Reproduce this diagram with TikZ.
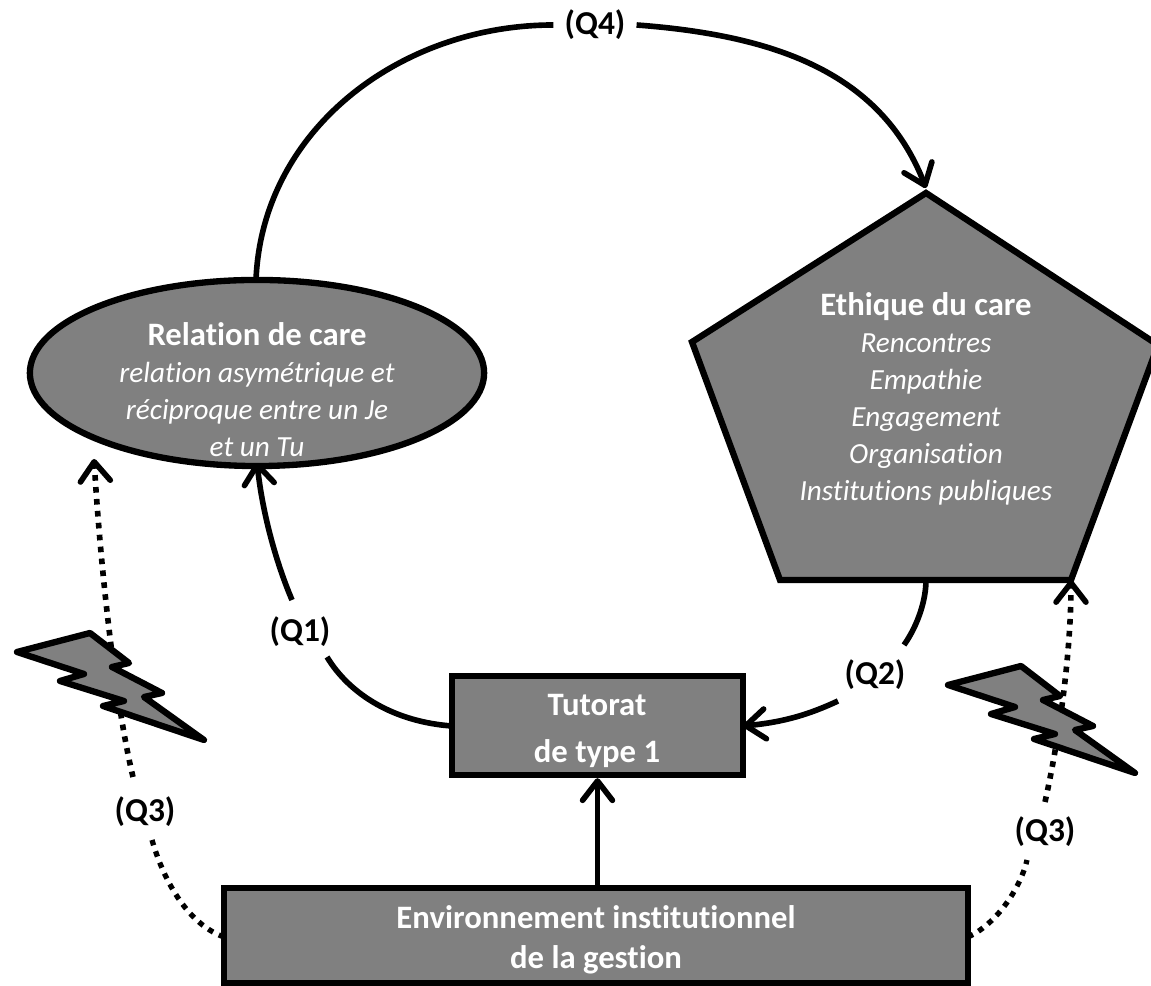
\documentclass[tikz,border=0pt]{standalone}
\usepackage{fontspec}
\usepackage{tikz}
\usetikzlibrary{arrows.meta,shapes.geometric}
\setmainfont[Ligatures=CommonOff]{Carlito}

\definecolor{boxgrey}{RGB}{128,128,128}
\newcommand{\boxtitle}[1]{{\fontsize{9.3}{10.5}\selectfont\bfseries\upshape #1}}

\tikzset{
    x=0.01cm, y=-0.01cm,
    shapebox/.style={draw=black, fill=boxgrey, line width=1.8pt, line join=miter},
    boxtext/.style={text=white, align=center, font=\fontsize{8.3}{10.5}\selectfont\itshape},
    qlabel/.style={fill=white, inner sep=3pt, font=\fontsize{9.5}{10}\selectfont\bfseries},
    link/.style={line width=1.6pt, -{Straight Barb[length=5.5pt,width=8.5pt,line width=1.6pt,round]}},
    linkplain/.style={line width=1.6pt},
    dotlink/.style={line width=1.5pt, dash pattern=on 1.6pt off 1.8pt},
}

\begin{document}
\begin{tikzpicture}
    \useasboundingbox (0,0) rectangle (1151,986);

    % connectors go first, the shapes sit on top of them
    \coordinate (top) at (926,193);
    \coordinate (right) at (1158,345);
    \coordinate (lowright) at (1071,580);
    \coordinate (lowleft) at (780,580);
    \coordinate (left) at (692,342);
    \coordinate (lowmid) at (926,580);
    \coordinate (topgap) at (926,188);
    \coordinate (rightgap) at (1071,580);
    \coordinate (ringtop) at (256,280);
    \coordinate (ringlow) at (257,462);
    \coordinate (ringleft) at (94,459);
    \coordinate (tutleft) at (452,726);
    \coordinate (tutright) at (743,726);
    \coordinate (envleft) at (224,937);
    \coordinate (envright) at (968,937);
    \coordinate (dotleftup) at (133,777);
    \coordinate (dotleftdown) at (152,840);
    \coordinate (dotrightup) at (1045,802);
    \coordinate (dotrightdown) at (1027,860);
    \coordinate (oneup) at (292,600);
    \coordinate (onedown) at (327,657);
    \coordinate (twoup) at (904,645);
    \coordinate (twodown) at (838,701);

    \node[qlabel] (q4) at (595,25) {(Q4)};
    \node[qlabel] (q1) at (300,632) {(Q1)};
    \node[qlabel] (q2) at (875,675) {(Q2)};
    \node[qlabel] (q3l) at (145,812) {(Q3)};
    \node[qlabel] (q3r) at (1045,832) {(Q3)};

    \draw[linkplain] (ringtop) .. controls (262,130) and (400,25) .. (q4.west);
    \draw[link] (q4.east) .. controls (770,35) and (880,70) .. (topgap);
    \draw[linkplain] (tutleft) .. controls (395,722) and (350,695) .. (onedown);
    \draw[link] (oneup) .. controls (275,560) and (262,510) .. (ringlow);
    \draw[linkplain] (lowmid) .. controls (926,600) and (918,625) .. (twoup);
    \draw[link] (twodown) .. controls (810,714) and (785,722) .. (tutright);
    \draw[dotlink] (envleft) .. controls (190,925) and (165,885) .. (dotleftdown);
    \draw[link, dash pattern=on 1.6pt off 1.8pt] (dotleftup) .. controls (118,715) and (102,590) .. (ringleft);
    \draw[dotlink] (envright) .. controls (995,925) and (1020,890) .. (dotrightdown);
    \draw[link, dash pattern=on 1.6pt off 1.8pt] (dotrightup) .. controls (1060,735) and (1071,650) .. (rightgap);

    \node[shapebox, ellipse, minimum width=4.54cm, minimum height=1.86cm, inner sep=0pt] (relation) at (257,373) {};
    \node[boxtext] (relationtext) at (257,390) {\boxtitle{Relation de care}\\ relation asymétrique et\\ réciproque entre un Je\\ et un Tu};

    \draw[shapebox] (top) -- (right) -- (lowright) -- (lowleft) -- (left) -- cycle;
    \node[boxtext] (ethique) at (926,399) {\boxtitle{Ethique du care}\\ Rencontres\\ Empathie\\ Engagement\\ Organisation\\ Institutions publiques};

    \node[shapebox, minimum width=2.91cm, minimum height=0.99cm] (tutorat) at (597.5,725.5) {};
    \node[boxtext, font=\fontsize{9.3}{13.3}\selectfont\bfseries] (tutorattext) at (597,731) {Tutorat\\ de type 1};

    \node[shapebox, minimum width=7.44cm, minimum height=0.95cm] (environnement) at (596,935.5) {};
    \node[boxtext, font=\fontsize{9.3}{11.4}\selectfont\bfseries] (environnementtext) at (596,940) {Environnement institutionnel\\ de la gestion};

    \draw[link] (environnement.north -| tutorat.south) -- (tutorat.south);

    \foreach \dx/\dy in {0/0,931/33}
        \draw[shapebox, line join=round, shift={(\dx,\dy)}] (17,652) -- (90,633) -- (129,663) -- (112,667) -- (162,693) -- (144,697) -- (204,740) -- (103,706) -- (124,701) -- (60,681) -- (84,674) -- cycle;
\end{tikzpicture}
\end{document}
